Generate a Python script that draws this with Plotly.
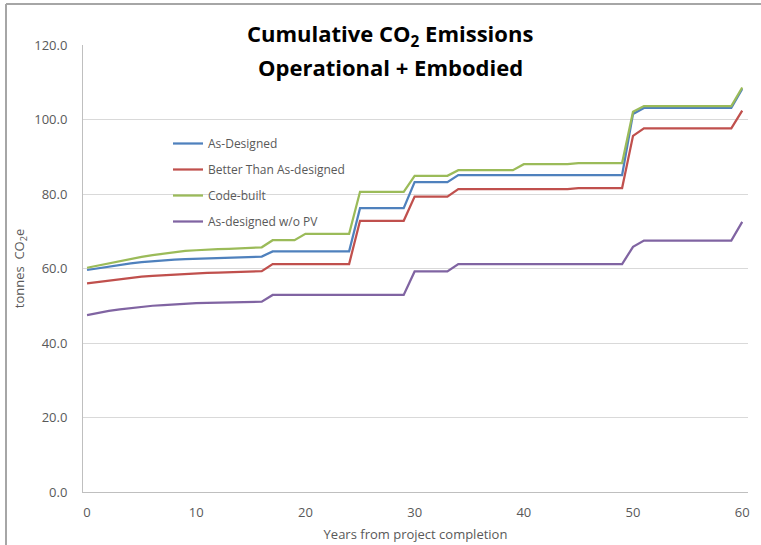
import plotly.graph_objects as go

# Years after project completion
years = list(range(0, 61))

# Cumulative emissions, tonnes CO2e, one value per year
as_designed = (
    [59.6, 60.1, 60.6, 61.0, 61.4, 61.7, 62.0, 62.2, 62.4, 62.5, 62.6, 62.7, 62.8, 62.8, 62.9, 63.0, 63.2]
    + [64.6] * 8
    + [76.2] * 5
    + [83.2] * 4
    + [85.1] * 16
    + [101.5]
    + [103.1] * 9
    + [108.2]
)
better_than = (
    [56.0, 56.4, 56.8, 57.2, 57.5, 57.8, 58.0, 58.2, 58.4, 58.6, 58.7, 58.8, 58.9, 59.0, 59.0, 59.1, 59.3]
    + [61.2] * 8
    + [72.8] * 5
    + [79.3] * 4
    + [81.3] * 11
    + [81.6] * 5
    + [95.6]
    + [97.6] * 9
    + [102.4]
)
code_built = (
    [60.2, 60.8, 61.4, 62.0, 62.6, 63.1, 63.6, 64.0, 64.4, 64.7, 64.9, 65.1, 65.2, 65.3, 65.4, 65.5, 65.7]
    + [67.6] * 3
    + [69.3] * 5
    + [80.6] * 5
    + [84.9] * 4
    + [86.4] * 6
    + [88.0] * 5
    + [88.3] * 5
    + [102.1]
    + [103.6] * 9
    + [108.6]
)
no_pv = (
    [47.5, 48.1, 48.6, 49.0, 49.4, 49.7, 50.0, 50.2, 50.4, 50.6, 50.7, 50.8, 50.9, 50.9, 51.0, 51.0, 51.1]
    + [52.9] * 13
    + [59.2] * 4
    + [61.2] * 16
    + [65.8]
    + [67.5] * 9
    + [72.5]
)

series_names = ["As-Designed", "Better Than As-designed", "Code-built", "As-designed w/o PV"]
series_values = [as_designed, better_than, code_built, no_pv]
series_colors = ["#4F81BD", "#C0504D", "#9BBB59", "#8064A2"]

y_ticks = [0, 20, 40, 60, 80, 100, 120]
x_ticks = [0, 10, 20, 30, 40, 50, 60]

FONT = "Open Sans"
GREY = "#595959"

fig = go.Figure()
for i, (name, vals, col) in enumerate(zip(series_names, series_values, series_colors)):
    fig.add_trace(go.Scatter(
        x=years, y=vals, name=name, mode="lines",
        line=dict(color=col, width=2.25),
        legendgroup=f"g{i}",
    ))

# plot area in pixels: left 83, right 748, top 45, bottom 492
L, R, T, B = 83, 748, 45, 492
W, H = 761, 545
pw, ph = R - L, B - T


def px_x(p):
    return (p - L) / pw


def px_y(p):
    return (B - p) / ph


fig.update_layout(
    width=W, height=H,
    margin=dict(l=L, r=W - R, t=T, b=H - B, pad=0, autoexpand=False),
    paper_bgcolor="white", plot_bgcolor="white",
    font=dict(family=FONT, size=13, color=GREY),
    showlegend=True,
    legend=dict(
        x=px_x(168), y=px_y(129), xanchor="left", yanchor="top",
        bgcolor="rgba(0,0,0,0)", font=dict(size=12, color=GREY),
        tracegroupgap=7, itemwidth=30,
    ),
    xaxis=dict(
        range=[-0.37, 60.53], tickvals=x_ticks, ticktext=[str(v) for v in x_ticks],
        showgrid=False, zeroline=False, showline=True, linecolor="#BFBFBF", linewidth=1,
        ticks="", ticklabelstandoff=8, tickfont=dict(size=13, color=GREY),
        automargin=False,
        title=dict(text="Years from project completion", font=dict(size=13, color=GREY), standoff=10),
    ),
    yaxis=dict(
        range=[0, 120], tickvals=y_ticks, ticktext=[f"{v:.1f}" for v in y_ticks],
        showgrid=True, gridcolor="#D9D9D9", gridwidth=1, zeroline=False,
        showline=True, linecolor="#BFBFBF", linewidth=1,
        ticks="", ticklabelstandoff=12, tickfont=dict(size=13, color=GREY),
        automargin=False,
        title=dict(text="tonnes  CO<sub>2</sub>e", font=dict(size=13, color=GREY), standoff=6),
    ),
    annotations=[
        dict(text="<b>Cumulative CO<sub>2</sub> Emissions</b>", x=px_x(390), y=px_y(35),
             xref="paper", yref="paper", showarrow=False, xanchor="center", yanchor="middle",
             font=dict(family=FONT, size=22, color="black")),
        dict(text="<b>Operational + Embodied</b>", x=px_x(390), y=px_y(67),
             xref="paper", yref="paper", showarrow=False, xanchor="center", yanchor="middle",
             font=dict(family=FONT, size=22, color="black")),
    ],
    shapes=[
        dict(type="line", xref="paper", yref="paper", x0=px_x(6), x1=px_x(W + 5),
             y0=px_y(4), y1=px_y(4), line=dict(color="#A6A6A6", width=2), layer="above"),
        dict(type="line", xref="paper", yref="paper", x0=px_x(6), x1=px_x(6),
             y0=px_y(4), y1=px_y(H + 5), line=dict(color="#A6A6A6", width=2), layer="above"),
    ],
)

fig.write_html("out.html")
